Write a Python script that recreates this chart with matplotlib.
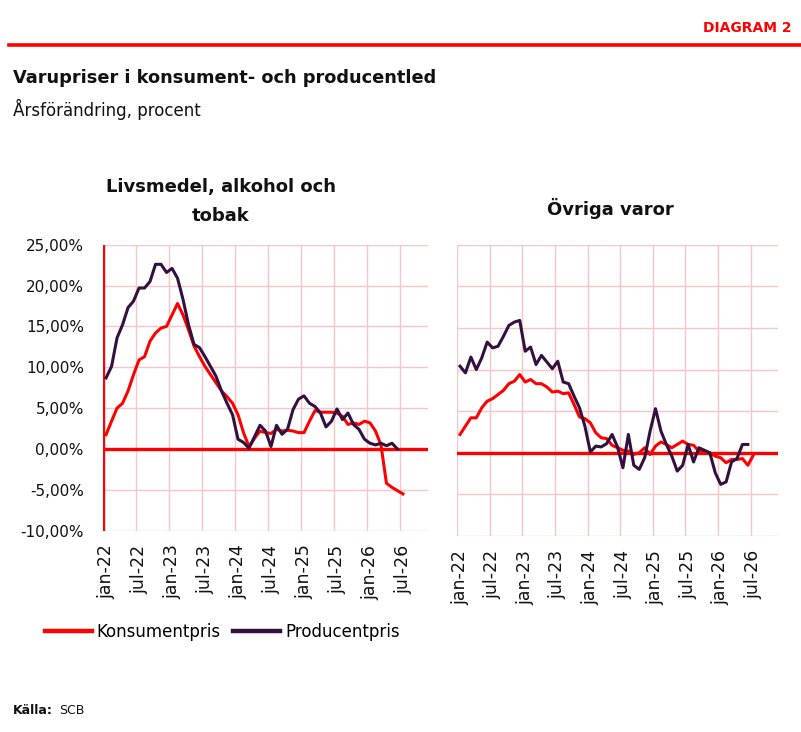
import matplotlib
matplotlib.use("Agg")
import matplotlib.pyplot as plt
from matplotlib.lines import Line2D
import numpy as np

plt.rcParams['font.family'] = ['DejaVu Sans']

# ---------------- data ----------------
months_sv = ["jan", "feb", "mar", "apr", "maj", "jun", "jul", "aug", "sep", "okt", "nov", "dec"]
months = [f"{m}-{y}" for y in range(22, 27) for m in months_sv][:55]   # jan-22 .. jul-26

food_konsument = [1.75, 3.4, 5.0, 5.6, 7.1, 9.1, 10.9, 11.3, 13.2, 14.2, 14.8, 15.0, 16.4, 17.8,
                  16.4, 14.6, 12.6, 11.3, 10.1, 9.1, 8.1, 7.1, 6.4, 5.6, 4.2, 2.0, 0.3, 1.3, 2.2,
                  2.0, 1.9, 2.4, 2.2, 2.3, 2.2, 2.0, 2.0, 3.4, 4.7, 4.5, 4.5, 4.5, 4.4, 4.0, 3.0,
                  3.2, 3.0, 3.4, 3.2, 2.2, 0.5, -4.2, -4.7, -5.1, -5.5]
food_producent = [8.7, 10.1, 13.6, 15.2, 17.3, 18.1, 19.7, 19.7, 20.5, 22.6, 22.6, 21.6, 22.1,
                  20.9, 18.3, 15.2, 12.8, 12.4, 11.3, 10.1, 8.9, 7.1, 5.6, 4.2, 1.2, 0.8, 0.1,
                  1.5, 2.9, 2.2, 0.3, 2.9, 1.8, 2.4, 4.8, 6.1, 6.5, 5.6, 5.2, 4.4, 2.7, 3.4, 4.9,
                  3.6, 4.4, 3.0, 2.4, 1.2, 0.7, 0.5, 0.7, 0.4, 0.7, 0.0]
other_konsument = [2.2, 3.2, 4.2, 4.2, 5.4, 6.2, 6.5, 7.0, 7.5, 8.3, 8.6, 9.4, 8.5, 8.8, 8.3,
                   8.3, 7.9, 7.3, 7.4, 7.1, 7.2, 5.8, 4.3, 4.1, 3.6, 2.4, 1.8, 1.7, 0.9, 0.6,
                   0.3, 0.2, -0.2, 0.0, 0.6, -0.2, 0.8, 1.3, 1.0, 0.6, 1.0, 1.4, 1.0, 0.9, 0.2,
                   0.2, 0.0, -0.4, -0.6, -1.2, -0.8, -0.8, -0.7, -1.5, -0.3]
other_producent = [10.4, 9.6, 11.5, 10.0, 11.4, 13.3, 12.6, 12.8, 14.0, 15.3, 15.7, 15.9, 12.2,
                   12.7, 10.6, 11.7, 10.9, 10.1, 11.0, 8.5, 8.3, 6.8, 5.4, 3.2, 0.1, 0.8, 0.7,
                   1.1, 2.2, 0.7, -1.8, 2.2, -1.5, -2.0, -0.6, 2.6, 5.3, 2.6, 1.0, -0.4, -2.2,
                   -1.5, 1.0, -1.1, 0.6, 0.3, 0.0, -2.4, -3.8, -3.5, -1.1, -0.7, 1.0, 1.0]

y_ticks = [-10, -5, 0, 5, 10, 15, 20, 25]
y_ticklabels = ["-10,00%", "-5,00%", "0,00%", "5,00%", "10,00%", "15,00%", "20,00%", "25,00%"]
series_names = ["Konsumentpris", "Producentpris"]
panel_titles = ["Livsmedel, alkohol och", "tobak", "Övriga varor"]

# ---------------- style ----------------
RED = "#FF0000"
PURPLE = "#33113F"
GRID = "#F8C6C9"
W, H = 801, 732

fig = plt.figure(figsize=(W / 100, H / 100), dpi=100)
fig.patch.set_facecolor("white")


def fx(px):
    return px / W


def fy(py):
    return 1 - py / H


ax1 = fig.add_axes([fx(103.3), fy(530.7), fx(427.7 - 103.3), (530.7 - 244.7) / H])
ax2 = fig.add_axes([fx(457.3), fy(536.0), fx(777.7 - 457.3), (536.0 - 244.7) / H])

x = np.arange(len(months))
tick_idx = list(range(0, len(months), 6))

for ax, kons, prod, left in [(ax1, food_konsument, food_producent, True),
                             (ax2, other_konsument, other_producent, False)]:
    ax.set_xlim(-0.5, 58.5)
    ax.set_ylim(-10, 25)
    for s in ax.spines.values():
        s.set_visible(False)
    # grid
    for yv in y_ticks:
        if yv != 0:
            ax.axhline(yv, color=GRID, lw=1.0, zorder=0)
    for g in range(0, 60, 6):
        if g == 0 and left:
            continue
        if g - 0.5 > 54:
            continue
        ax.axvline(g - 0.5, color=GRID, lw=1.0, zorder=0)
    ax.axhline(0, color=RED, lw=2.4, zorder=1)
    if left:
        ax.axvline(-0.5, color=RED, lw=2.4, zorder=1)
    ax.plot(x[:len(kons)], kons, color=RED, lw=2.2, zorder=3, solid_joinstyle="round")
    ax.plot(x[:len(prod)], prod, color=PURPLE, lw=2.2, zorder=4, solid_joinstyle="round")
    ax.set_xticks(tick_idx)
    ax.set_xticklabels([months[i] for i in tick_idx], rotation=90, fontsize=12.5,
                       va="top", ha="center", color="#111111")
    ax.tick_params(axis="x", length=0, pad=10)
    ax.set_yticks(y_ticks)
    if left:
        ax.set_yticklabels(y_ticklabels, fontsize=11, color="#111111")
        ax.tick_params(axis="y", length=0, pad=14)
    else:
        ax.set_yticklabels([])
        ax.tick_params(axis="y", length=0)

# ---------------- texts ----------------
fig.text(fx(792), fy(31.7), "DIAGRAM 2", color=RED, fontsize=10, fontweight="bold",
         ha="right", va="baseline")
fig.add_artist(Line2D([fx(9), 1.0], [fy(45), fy(45)], color=RED, lw=2.6))
fig.text(fx(13), fy(83.3), "Varupriser i konsument- och producentled", fontsize=12.8,
         fontweight="bold", ha="left", va="baseline", color="#111111")
fig.text(fx(13), fy(116), "Årsförändring, procent", fontsize=12, ha="left",
         va="baseline", color="#111111")
fig.text(fx(221), fy(192.3), panel_titles[0], fontsize=13, fontweight="bold",
         ha="center", va="baseline", color="#111111")
fig.text(fx(221), fy(220.7), panel_titles[1], fontsize=13, fontweight="bold",
         ha="center", va="baseline", color="#111111")
fig.text(fx(610.5), fy(215), panel_titles[2], fontsize=13, fontweight="bold",
         ha="center", va="baseline", color="#111111")

fig.text(fx(13), fy(714.3), "Källa:", fontsize=9, fontweight="bold", ha="left",
         va="baseline", color="#111111")
fig.text(fx(59), fy(714.3), "SCB", fontsize=9, ha="left", va="baseline", color="#111111")

# ---------------- legend ----------------
handles = [Line2D([], [], color=RED, lw=3.2), Line2D([], [], color=PURPLE, lw=3.2)]
fig.legend(handles, series_names, loc="center left", bbox_to_anchor=(fx(45), fy(632.3)),
           ncol=2, frameon=False, fontsize=12, handlelength=2.8, handletextpad=0.3,
           columnspacing=0.75, borderpad=0, borderaxespad=0)

fig.savefig("out.png", dpi=100, facecolor="white")
